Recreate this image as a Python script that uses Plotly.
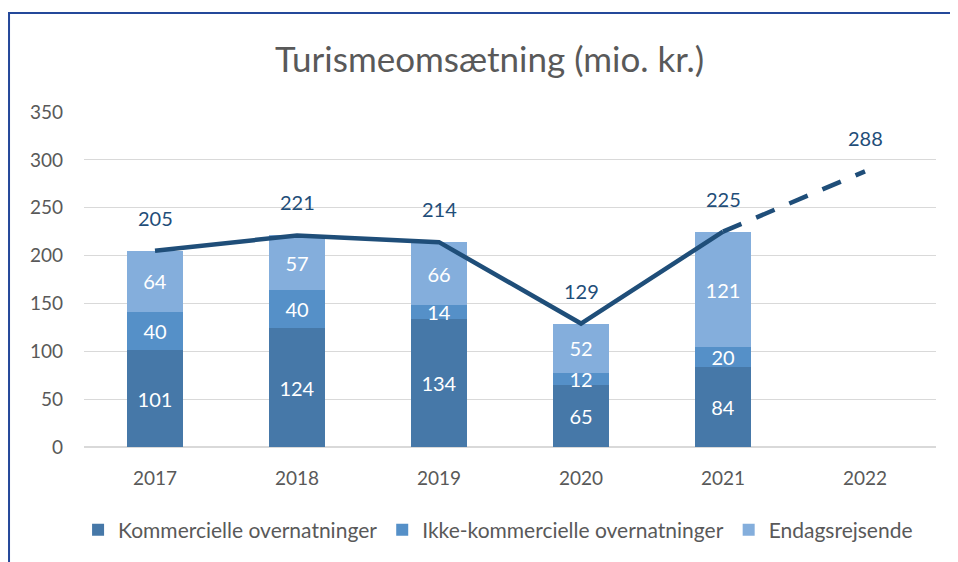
import plotly.graph_objects as go

years = ["2017", "2018", "2019", "2020", "2021", "2022"]
bar_years = ["2017", "2018", "2019", "2020", "2021"]
kommercielle = [101, 124, 134, 65, 84]
ikke_kommercielle = [40, 40, 14, 12, 20]
endagsrejsende = [64, 57, 66, 52, 121]
total = [205, 221, 214, 129, 225, 288]

series_names = ["Kommercielle overnatninger", "Ikke-kommercielle overnatninger", "Endagsrejsende"]
colors = ["#4678A8", "#5590C8", "#84AEDC"]
line_color = "#1F4E79"
font_family = "Lato, 'Open Sans', sans-serif"
grey = "#595959"

fig = go.Figure()
for name, vals, col in zip(series_names, [kommercielle, ikke_kommercielle, endagsrejsende], colors):
    fig.add_trace(go.Bar(
        x=bar_years, y=vals, name=name, marker=dict(color=col, line=dict(width=0)),
        text=[str(v) for v in vals], textposition="inside", insidetextanchor="middle",
        textangle=0, constraintext="none", cliponaxis=False,
        textfont=dict(color="white", size=20, family=font_family), width=0.4,
        hoverinfo="skip",
    ))

fig.add_trace(go.Scatter(
    x=years[:5], y=total[:5], mode="lines",
    line=dict(color=line_color, width=4.5), showlegend=False, hoverinfo="skip",
))
fig.add_trace(go.Scatter(
    x=years[4:], y=total[4:], mode="lines",
    line=dict(color=line_color, width=4.5, dash="20px,16px"), showlegend=False, hoverinfo="skip",
))

for i, v in enumerate(total):
    fig.add_annotation(x=i, y=v, xref="x", yref="y", text=str(v), showarrow=False, yshift=33,
                       font=dict(color=line_color, size=20, family=font_family))

# chart border
fig.add_shape(type="rect", xref="paper", yref="paper",
              x0=-0.088, x1=1.2, y0=-0.5, y1=1.2955,
              line=dict(color="#24489A", width=2), fillcolor="rgba(0,0,0,0)", layer="above")

fig.update_layout(
    width=950, height=554,
    margin=dict(l=76, r=22, t=104, b=115),
    paper_bgcolor="white", plot_bgcolor="white",
    barmode="stack",
    font=dict(family=font_family, color=grey, size=19),
    title=dict(text="Turismeomsætning (mio. kr.)", x=0.507, xanchor="center",
               y=1 - 52 / 554, yanchor="middle", yref="container",
               font=dict(size=35, color=grey, family=font_family)),
    showlegend=True,
    legend=dict(orientation="h", x=0.486, xanchor="center", y=-0.248, yanchor="middle",
                traceorder="normal", font=dict(size=21, color=grey, family=font_family),
                itemwidth=30, itemsizing="constant"),
    xaxis=dict(type="category", categoryorder="array", categoryarray=years,
               showgrid=False, showline=True, linecolor="#D9D9D9", linewidth=1,
               ticks="", tickfont=dict(size=19, color=grey), ticklabelstandoff=14,
               range=[-0.5, 5.5]),
    yaxis=dict(range=[0, 350], dtick=50, tick0=0, showgrid=True, gridcolor="#D9D9D9",
               gridwidth=1, zeroline=True, zerolinecolor="#D9D9D9", showline=False,
               ticks="", tickfont=dict(size=19, color=grey), ticklabelstandoff=20),
)

fig.write_html("out.html")
